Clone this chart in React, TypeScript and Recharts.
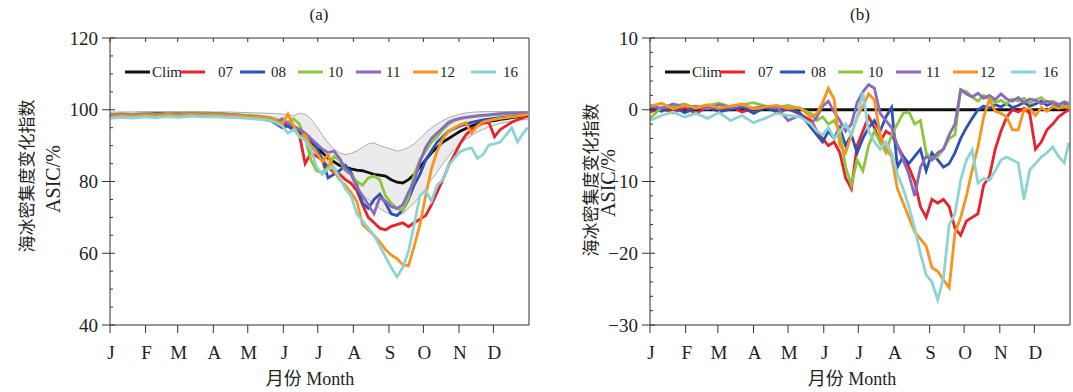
import React from 'react';
import { ComposedChart, Line, Area, XAxis, YAxis, Legend } from 'recharts';

// day-of-year sampling (coarser Jan-May, 5-day steps after)
const days = [1, 11, 21, 31, 41, 51, 61, 71, 81, 91, 101, 111, 121, 131, 141,
  146, 151, 156, 161, 166, 171, 176, 181, 186, 191, 196, 201, 206, 211, 216, 221, 226, 231, 236, 241,
  246, 251, 256, 261, 266, 271, 276, 281, 286, 291, 296, 301, 306, 311, 316, 321, 326, 331, 336, 341,
  346, 351, 356, 361, 365];

const monthStarts = [1, 32, 60, 91, 121, 152, 182, 213, 244, 274, 305, 335];
const monthLabels = ['J', 'F', 'M', 'A', 'M', 'J', 'J', 'A', 'S', 'O', 'N', 'D'];

const seriesNames = ['Clim', '07', '08', '10', '11', '12', '16'];
const seriesColors = ['#111111', '#e8212b', '#2d52b6', '#8cc63e', '#8b69bd', '#f7931e', '#8ed3d3'];

// (a) ASIC, %
const climA = [98.5, 98.6, 98.7, 98.8, 98.9, 99, 99, 99, 99, 98.9, 98.8, 98.6, 98.3, 98, 97.5,
  97, 96.5, 95.5, 94.5, 93.5, 92.5, 91, 89.5, 88, 86.5, 85.5, 84.5, 84, 83.5, 83.2, 83, 82.5, 82, 81.8, 81.5,
  80.5, 79.8, 79.6, 80.5, 82, 84, 86, 88, 89.5, 91, 92, 93, 94, 94.8, 95.5, 96, 96.5, 96.8, 97, 97.3,
  97.5, 97.8, 98, 98.2, 98.3];
const bandHiA = [99.3, 99.4, 99.4, 99.5, 99.5, 99.5, 99.5, 99.5, 99.5, 99.4, 99.4, 99.3, 99.2, 99.1, 99,
  98.9, 98.8, 98.6, 98.3, 99, 98.8, 97.5, 95.3, 93, 90.8, 89, 88, 87.5, 87.8, 88.5, 89.5, 90.5, 90.8, 90, 89.5,
  89, 88.5, 88.8, 89.5, 90.5, 92, 93.5, 95, 96, 97, 97.8, 98.3, 98.8, 99.1, 99.3, 99.4, 99.5, 99.5, 99.5, 99.5,
  99.5, 99.5, 99.5, 99.5, 99.5];
const bandLoA = [97.8, 97.9, 98, 98.1, 98.2, 98.2, 98.2, 98.2, 98.2, 98.1, 98, 97.8, 97.5, 97.2, 96.8,
  96.3, 95.8, 95, 94, 93, 91.5, 90, 88.5, 87, 85.5, 84, 82.5, 81, 79, 77, 76, 75, 74, 72.5, 71.5,
  70.7, 70.5, 71, 72.5, 74, 76, 78, 80.5, 82.5, 85, 87, 89, 90.5, 91.8, 92.8, 93.8, 94.5, 95.2, 95.7, 96.2,
  96.5, 96.8, 97, 97.2, 97.3];
const y07A = [98.2, 98.5, 98.3, 98.6, 98.4, 98.7, 98.5, 98.8, 98.6, 98.5, 98.4, 98.2, 98, 97.8, 97.5,
  97, 96.5, 95.8, 95, 93, 85, 88, 87, 86, 84, 82.5, 82, 80.5, 79.5, 77.5, 73.5, 70, 68.5, 67, 66.5,
  67.5, 68, 68.5, 67.4, 68.5, 69.5, 70.5, 73.5, 77, 80.5, 84.5, 87.5, 90.5, 93, 94.5, 95.5, 96.3, 96.5, 92.5, 94.5,
  95.5, 96.5, 97.2, 97.8, 98.2];
const y08A = [98.2, 98.5, 98.3, 98.6, 98.4, 98.6, 98.5, 98.7, 98.6, 98.4, 98.3, 98.1, 97.9, 97.6, 97,
  96, 95, 95.5, 94.5, 94, 93, 91.5, 89.5, 86, 81, 82, 83, 84.5, 82.5, 79, 74, 72.5, 75, 76.5, 74,
  71, 70.5, 72, 75, 79, 82, 86, 88.5, 91, 92.5, 94, 94.8, 95.5, 96, 96.5, 96.8, 97.2, 97.4, 97.6, 97.8,
  98, 98.1, 98.3, 98.5, 98.6];
const y10A = [98.6, 98.9, 98.7, 99, 98.8, 99, 98.9, 99.1, 99, 98.9, 98.8, 98.6, 98.4, 98.2, 97.8,
  97.3, 96.8, 96.5, 97.5, 96, 92, 86, 83, 82.5, 84, 87, 86, 83, 82, 80, 79, 81, 81.5, 80.5, 76,
  74, 72.5, 72, 75.5, 82, 86, 88.5, 91, 92.5, 94.5, 96, 97, 97.5, 97.8, 98, 98.2, 98.4, 98.5, 98.6, 98.7,
  98.8, 98.9, 98.9, 99, 99];
const y11A = [98.4, 98.7, 98.5, 98.8, 98.6, 98.8, 98.7, 98.9, 98.8, 98.7, 98.6, 98.4, 98.2, 98, 97.6,
  96.5, 97.5, 96.2, 95.5, 94.5, 93.5, 92, 90.5, 89, 88, 88.5, 86.5, 83.5, 82, 78.5, 76, 73.5, 71, 75.5, 74.5,
  73, 72.5, 73.5, 77, 80, 85.5, 89.5, 92, 93.5, 95, 96.5, 97.2, 97.6, 97.9, 98.1, 98.3, 98.5, 98.6, 98.8, 98.9,
  99, 99.1, 99.1, 99.2, 99.2];
const y12A = [98, 98.4, 98.2, 98.5, 98.3, 98.6, 98.4, 98.7, 98.5, 98.6, 98.4, 98.3, 98.1, 97.9, 97.5,
  96.8, 96, 98.8, 95.5, 92.5, 93, 90, 88, 85.5, 87.5, 83, 80.5, 79, 77, 74.5, 68, 66.5, 65, 63.2, 61,
  59.5, 58.5, 56.8, 56.5, 62, 68, 76, 83.5, 88.5, 92, 94, 95, 95.8, 96.4, 93.5, 95.5, 96.6, 97, 97.3, 97.6,
  97.8, 98, 98.2, 98.5, 98.7];
const y16A = [97.6, 97.9, 97.7, 98, 97.8, 98.1, 97.9, 98.2, 98, 98.1, 97.9, 97.8, 97.6, 97.3, 97,
  96.3, 95.5, 93.5, 94.5, 92.5, 91.5, 89, 84, 82, 83.5, 84, 81, 78, 76, 71, 69, 67, 65, 62, 59,
  56, 53.4, 56, 60.5, 68, 76, 77.5, 74.5, 79, 80.5, 84.5, 86.5, 88.3, 89, 89.4, 86.5, 87.5, 90.2, 90.5, 91,
  93, 95, 91, 93.5, 95];

// (b) ASIC anomaly, %
const climB = days.map(() => 0);
const y07B = [-0.3, 0.2, -0.4, 0.3, -0.5, 0.4, -0.2, 0.5, -0.3, 0.2, 0.4, -0.3, 0.1, -0.6, -1.5,
  -3, -4, -5, -4.5, -6, -9.5, -11, -5, -3, -1, -2.5, -4.5, -3, -3.5, -5, -6.5, -8, -10, -13.5, -15,
  -12.5, -13, -12.5, -13.5, -16.5, -17.5, -15.5, -15, -14.5, -10.5, -9.3, -5.5, -3, -1, 0, -0.3, 0.2, -0.5, -5.5, -4.5,
  -2.8, -2, -1, -0.4, 0];
const y08B = [0.3, -0.2, 0.5, -0.4, 0.2, 0.6, -0.3, 0.1, 0.4, -0.5, 0.3, -0.2, 0.2, -0.4, -2.5,
  -3.5, -4.5, -3, -4, -2.5, -5, -3.5, -6, -4, -2.5, -1.5, -3, -1, 0.3, -8, -6.5, -7.5, -6.5, -5.5, -8.5,
  -6, -7, -8, -7.5, -6, -4, -2.5, -1.2, 0, 0.5, 0.2, 0.7, 0.4, 0.9, 0.3, 0.6, 1, 0.5, 0.8, 1.2,
  0.6, 1, 0.4, 0.8, 0.6];
const y10B = [-1.2, 0.3, 0.5, 0.8, 0.2, 0.6, 0.9, 0.4, 0.7, 1, 0.5, 0.3, 0.6, 0.2, -0.5,
  -1.5, -1, -2, -1.5, -3, -8, -10.5, -7, -8.5, -5, -3, -4.5, -6, -3.5, -2, -0.5, -0.3, -2, -1.5, -6,
  -7, -6.5, -5.5, -4, -3.5, 2.8, 2.5, 1.8, 1.2, 2, 1.5, 1, 1.3, 0.8, 1.5, 1.2, 1.6, 0.9, 1.4, 1.7,
  1, 1.2, 0.8, 0.5, 0.6];
const y11B = [0.6, 0.2, 0.8, 0.4, 0.5, 0.1, 0.7, 0.3, 0.6, 0.2, 0.5, 0.4, -1.5, -0.8, -2,
  -1, 0.5, 1.2, -0.3, -1.5, -3, -2, 1, 2.5, 3.5, 3, -0.5, -1.5, -2.5, -5, -7, -9, -12, -8, -6.5,
  -7, -6, -5.5, -3.5, -2, 2.8, 2.2, 1.8, 2.3, 1.6, 2, 1.4, 2.2, 1.5, 1.2, 1.7, 1, 1.5, 1.3, 0.8,
  1.2, 1, 0.7, 1.1, 0.9];
const y12B = [0.5, 0.9, 0.1, 0.6, 0.3, 0.7, 0.2, 0.5, 0.8, 0.1, 0.4, 0.6, 0.2, 0.3, -1,
  -0.5, 1, 3, 1.5, -5, -6, -3.5, -1, 0.5, 2.2, 1.4, -3.5, -5.5, -6.5, -11, -13, -15, -17, -18, -19,
  -22, -22.5, -23.7, -24.8, -17.2, -15, -12, -8.4, -5.2, -1, 1.4, -0.2, -0.5, -1, -2.8, -2.8, 0, 0.2, -0.8, 0.3,
  -0.2, 0.5, 0.2, 0.4, 0.3];
const y16B = [-1.5, -0.8, -0.3, -1, -0.5, -1.2, -0.4, -1.5, -0.8, -1.8, -1.2, -0.5, -0.8, -1, -2,
  -3, -3.5, -2.5, -4, -3, -2, -3.5, -1, 2.4, -3, -4.5, -5.5, -4.5, -6, -9, -11, -13.5, -16.5, -20, -23,
  -24, -26.5, -23.5, -16, -14.5, -9.8, -7, -5.6, -10.2, -9.6, -9.8, -8.5, -7, -6.6, -7, -7.4, -12.5, -8.4, -7.5, -6.6,
  -6, -5.2, -6.5, -7.4, -4.6];

const seriesA = [climA, y07A, y08A, y10A, y11A, y12A, y16A];
const seriesB = [climB, y07B, y08B, y10B, y11B, y12B, y16B];

const rowsA = days.map((day, i) => {
  const r: any = { day, band: [bandLoA[i], bandHiA[i]] };
  seriesA.forEach((s, k) => { r['s' + k] = s[i]; });
  return r;
});
const rowsB = days.map((day, i) => {
  const r: any = { day };
  seriesB.forEach((s, k) => { r['s' + k] = s[i]; });
  return r;
});

const FONT = '"Liberation Serif", "Times New Roman", "Noto Sans CJK SC", serif';
const AXIS = '#333';

// legend offsets relative to the plot's left edge
const legendLineX = [15, 70, 130, 188, 246, 303, 361];
const legendTextX = [42, 108, 161, 218, 276, 330, 393];

const fmt = (v: number) => (v < 0 ? '\u2212' + Math.abs(v) : String(v));

const makeLeftTick = (major: number) => (p: any) => {
  const v = p.payload.value;
  const isMajor = Math.abs(v % major) < 1e-6;
  return (
    <g>
      <line x1={isMajor ? p.x - 8 : p.x} x2={p.x + (isMajor ? 5 : 3)} y1={p.y} y2={p.y} stroke={AXIS} />
      {isMajor && (
        <text x={p.x - 12} y={p.y} dy="0.35em" textAnchor="end" fontSize={19} fontFamily={FONT} fill="#222">
          {fmt(v)}
        </text>
      )}
    </g>
  );
};

const RightTick = (p: any) => <line x1={p.x - 5} x2={p.x} y1={p.y} y2={p.y} stroke={AXIS} />;
const TopTick = (p: any) => <line x1={p.x} x2={p.x} y1={p.y} y2={p.y + 4} stroke={AXIS} />;

const BottomTick = (p: any) => {
  const idx = monthStarts.indexOf(p.payload.value);
  return (
    <g>
      <line x1={p.x} x2={p.x} y1={p.y} y2={p.y + 8} stroke={AXIS} />
      <text x={p.x + 1} y={p.y + 34} textAnchor="middle" fontSize={19} fontFamily={FONT} fill="#222">
        {monthLabels[idx]}
      </text>
    </g>
  );
};

const LegendRow = ({ plotLeft, width }: { plotLeft: number; width: number }) => (
  <svg width={width} height={24} style={{ display: 'block' }}>
    {seriesNames.map((name, k) => (
      <g key={name}>
        <line x1={plotLeft + legendLineX[k]} x2={plotLeft + legendLineX[k] + 25} y1={12} y2={12}
          stroke={seriesColors[k]} strokeWidth={3} />
        <text x={plotLeft + legendTextX[k]} y={12} dy="0.35em" fontSize={15} fontFamily={FONT} fill="#222">{name}</text>
      </g>
    ))}
  </svg>
);

interface PanelProps {
  rows: any[];
  width: number;
  marginRight: number;
  domain: [number, number];
  ticks: number[];
  majorTicks: number[];
  major: number;
  band?: boolean;
}

const Panel = ({ rows, width, marginRight, domain, ticks, majorTicks, major, band }: PanelProps) => (
  <ComposedChart width={width} height={392} data={rows} margin={{ top: 36, right: marginRight, bottom: 37, left: 60 }}>
    <XAxis dataKey="day" type="number" domain={[1, 366]} ticks={monthStarts} interval={0}
      height={30} tickSize={0} tickMargin={0} tickLine={false} tick={BottomTick}
      axisLine={{ stroke: AXIS }} allowDataOverflow />
    <XAxis xAxisId="top" orientation="top" dataKey="day" type="number" domain={[1, 366]} ticks={monthStarts}
      interval={0} height={2} tickSize={0} tickMargin={0} tickLine={false} tick={TopTick} axisLine={{ stroke: AXIS }} />
    <YAxis type="number" domain={domain} ticks={ticks} interval={0} width={50} tickSize={0} tickMargin={0}
      tickLine={false} tick={makeLeftTick(major)} axisLine={{ stroke: AXIS }} allowDataOverflow />
    <YAxis yAxisId="right" orientation="right" type="number" domain={domain} ticks={majorTicks} interval={0}
      width={2} tickSize={0} tickMargin={0} tickLine={false} tick={RightTick} axisLine={{ stroke: AXIS }} />
    <Legend verticalAlign="middle" align="center" layout="horizontal"
      wrapperStyle={{ left: 0, top: 60, width, height: 24 }}
      content={() => <LegendRow plotLeft={110} width={width} />} />
    {band && (
      <Area dataKey="band" type="linear" fill="#ebebeb" fillOpacity={1} stroke="#999" strokeWidth={0.8}
        isAnimationActive={false} dot={false} activeDot={false} />
    )}
    {seriesNames.map((name, k) => (
      <Line key={name} dataKey={'s' + k} name={name} type="linear" stroke={seriesColors[k]} strokeWidth={2.8}
        dot={false} activeDot={false} isAnimationActive={false} />
    ))}
  </ComposedChart>
);

const abs = (extra: React.CSSProperties): React.CSSProperties => ({
  position: 'absolute', whiteSpace: 'nowrap', color: '#222', fontFamily: FONT, ...extra,
});

const ticksA = [40, 45, 50, 55, 60, 65, 70, 75, 80, 85, 90, 95, 100, 105, 110, 115, 120];
const majorA = [40, 60, 80, 100, 120];
const ticksB = [-30, -28, -26, -24, -22, -20, -18, -16, -14, -12, -10, -8, -6, -4, -2, 0, 2, 4, 6, 8, 10];
const majorB = [-30, -20, -10, 0, 10];

export default function App() {
  return (
    <div style={{ position: 'absolute', left: 0, top: 0, width: 1073, height: 392, background: '#fff', overflow: 'hidden' }}>
      <div style={{ position: 'absolute', left: 0, top: 0 }}>
        <Panel rows={rowsA} width={540} marginRight={9} domain={[40, 120]} ticks={ticksA} majorTicks={majorA} major={20} band />
      </div>
      <div style={{ position: 'absolute', left: 540, top: 0 }}>
        <Panel rows={rowsB} width={533} marginRight={1} domain={[-30, 10]} ticks={ticksB} majorTicks={majorB} major={10} />
      </div>

      <div style={abs({ left: 319, top: 15, transform: 'translate(-50%,-50%)', fontSize: 17 })}>(a)</div>
      <div style={abs({ left: 860, top: 15, transform: 'translate(-50%,-50%)', fontSize: 17 })}>(b)</div>

      <div style={abs({ left: 310, top: 377, transform: 'translate(-50%,-50%)', fontSize: 18 })}>月份 Month</div>
      <div style={abs({ left: 852, top: 377, transform: 'translate(-50%,-50%)', fontSize: 18 })}>月份 Month</div>

      <div style={abs({ left: 25, top: 176, transform: 'translate(-50%,-50%) rotate(-90deg)', fontSize: 17 })}>海冰密集度变化指数</div>
      <div style={abs({ left: 53, top: 179, transform: 'translate(-50%,-50%) rotate(-90deg)', fontSize: 20 })}>ASIC/%</div>
      <div style={abs({ left: 589, top: 180, transform: 'translate(-50%,-50%) rotate(-90deg)', fontSize: 17 })}>海冰密集度变化指数</div>
      <div style={abs({ left: 608, top: 183, transform: 'translate(-50%,-50%) rotate(-90deg)', fontSize: 20 })}>ASIC/%</div>
    </div>
  );
}
